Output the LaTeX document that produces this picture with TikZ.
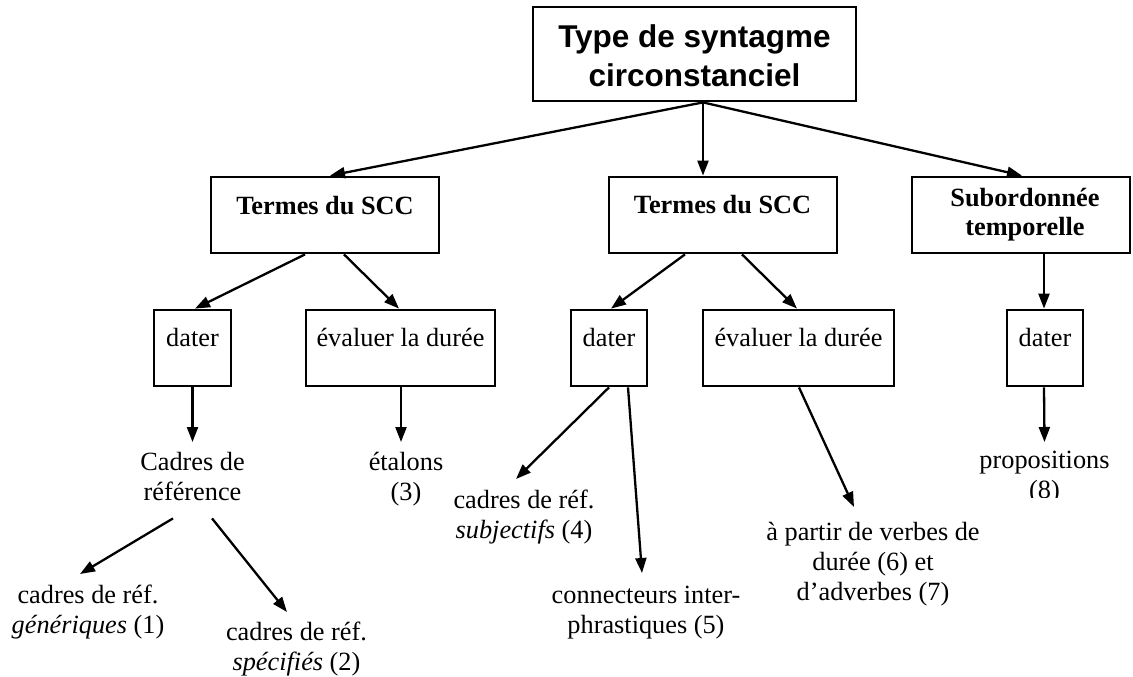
\documentclass[tikz,border=0pt]{standalone}
\usepackage{fontspec}
\setmainfont{Liberation Serif}
\newfontfamily\arialfont{Liberation Sans}
\usetikzlibrary{arrows.meta}
\newcommand\txtsize{\fontsize{26.3pt}{30pt}\selectfont}
\newcommand\subsize{\fontsize{26.3pt}{29pt}\selectfont}
\newcommand\titlefont{\arialfont\bfseries\fontsize{31.5pt}{39pt}\selectfont}
\begin{document}
\begin{tikzpicture}[x=1pt,y=-1pt,
  box/.style={draw, line width=2.8pt, inner sep=0pt, minimum height=76pt},
  arr/.style={line width=2.3pt, -{Triangle[length=15pt,width=11pt]}},
  txt/.style={inner sep=0pt, font=\txtsize, anchor=base},
  leaf/.style={inner sep=0pt, font=\txtsize, align=center, anchor=north}]
\useasboundingbox (0,0) rectangle (1133,677);

% level 0
\node[box, minimum width=323pt, minimum height=94pt] (top) at (694.5,54) {};
\node[inner sep=0pt, anchor=north, align=center, font=\titlefont] (toptxt) at (694.5,19.7) {\strut Type de syntagme\\circonstanciel};

% level 1
\node[box, minimum width=228pt] (t1) at (325,215) {};
\node[txt, font=\txtsize\bfseries] (t1txt) at (325,214) {Termes du SCC};
\node[box, minimum width=228pt] (t2) at (723,215) {};
\node[txt, font=\txtsize\bfseries] (t2txt) at (722.5,213.5) {Termes du SCC};
\node[box, minimum width=218pt] (sub) at (1021,215) {};
\node[leaf, font=\subsize\bfseries] (subtxt) at (1025,185.7) {\strut Subordonnée\\temporelle};

% level 2
\node[box, minimum width=77pt] (d1) at (192.5,348) {};
\node[txt] (d1txt) at (192.5,346) {dater};
\node[box, minimum width=189pt] (e1) at (400.5,348) {};
\node[txt] (e1txt) at (400.5,346) {évaluer la durée};
\node[box, minimum width=76pt] (d2) at (609,348) {};
\node[txt] (d2txt) at (609,346) {dater};
\node[box, minimum width=191pt] (e2) at (798.5,348) {};
\node[txt] (e2txt) at (798.5,346) {évaluer la durée};
\node[box, minimum width=76pt] (d3) at (1045,348) {};
\node[txt] (d3txt) at (1045,346) {dater};

% leaves
\node[leaf] (cad) at (192.5,449) {\strut Cadres de\\référence\strut};
\node[leaf] (eta) at (406,449) {\strut étalons\\(3)};
\node[leaf] (gen) at (88,582) {\strut cadres de réf.\\\textit{génériques} (1)};
\node[leaf] (spe) at (296.5,619) {\strut cadres de réf.\\\textit{spécifiés} (2)};
\node[leaf] (subj) at (524,487) {\strut cadres de réf.\\\textit{subjectifs} (4)};
\node[leaf] (conn) at (646,582) {\strut connecteurs inter-\\phrastiques (5)};
\node[leaf] (apar) at (873,519) {\strut à partir de verbes de\\durée (6) et\\d’adverbes (7)};
\begin{scope}
\clip (900,400) rectangle (1133,497.5);
\node[leaf] (prop) at (1044.5,447) {\strut propositions\\(8)};
\end{scope}

% connectors level 0 -> 1
\draw[arr] ([xshift=8.5pt]top.south) -- ([xshift=5pt]t1.north);
\draw[arr] ([xshift=8.5pt]top.south) -- ([xshift=-20pt]t2.north);
\draw[arr] ([xshift=8.5pt]top.south) -- ([xshift=1pt]sub.north);

% level 1 -> 2
\draw[arr] ([xshift=-20pt]t1.south) -- ([xshift=2.5pt]d1.north);
\draw[arr] ([xshift=19pt]t1.south) -- ([xshift=-1.5pt]e1.north);
\draw[arr] ([xshift=-38pt]t2.south) -- ([xshift=2pt]d2.north);
\draw[arr] ([xshift=19pt]t2.south) -- ([xshift=-1.5pt]e2.north);
\draw[arr] ([xshift=23pt]sub.south) -- ([xshift=-1pt]d3.north);

% level 2 -> leaves
\draw[arr] (d1.south) -- ([yshift=7pt]cad.north);
\draw[arr] ([xshift=0.5pt]e1.south) -- ([xshift=-5pt,yshift=7pt]eta.north);
\draw[arr] (d2.south) -- ([xshift=-8pt,yshift=8pt]subj.north);
\draw[arr] ([xshift=19pt]d2.south) -- ([xshift=-4pt,yshift=9pt]conn.north);
\draw[arr] ([xshift=0.5pt]e2.south) -- ([xshift=-19pt,yshift=12pt]apar.north);
\draw[arr] ([xshift=-1pt]d3.south) -- ([yshift=5pt]prop.north);

% leaves -> leaves
\draw[arr] ([xshift=-19.5pt,yshift=-9pt]cad.south) -- ([xshift=-8pt,yshift=8pt]gen.north);
\draw[arr] ([xshift=19.5pt,yshift=-9pt]cad.south) -- ([xshift=-9.5pt,yshift=7pt]spe.north);
\end{tikzpicture}
\end{document}
